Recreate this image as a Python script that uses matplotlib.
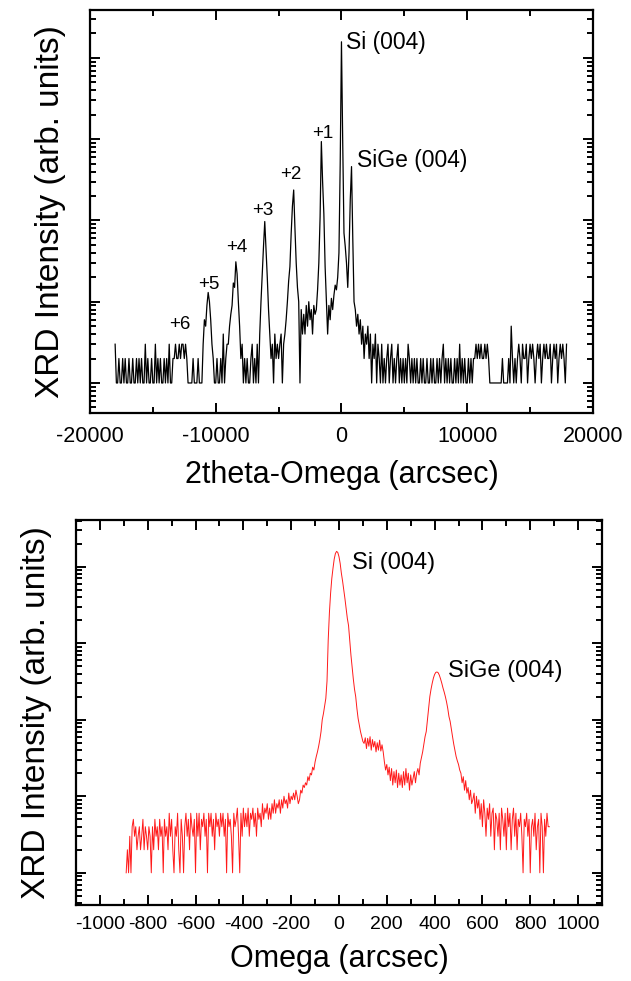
import numpy as np
import matplotlib
matplotlib.use("Agg")
import matplotlib.pyplot as plt
from matplotlib.ticker import LogLocator, NullFormatter, MultipleLocator, FixedLocator

plt.rcParams['font.family'] = ['Liberation Sans', 'DejaVu Sans']
plt.rcParams['axes.unicode_minus'] = False

# ---------------- data: 2theta-Omega scan (arcsec, counts) ----------------
scan1_start = -18000
scan1_step = 100
scan1_counts = (
    [3, 1, 1, 2, 1, 1, 2, 1, 2, 1] +          # -18000
    [1, 2, 1, 1, 2, 1, 1, 2, 1, 2] +          # -17000
    [1, 2, 1, 1, 3, 1, 2, 1, 1, 2] +          # -16000
    [1, 1, 3, 1, 2, 1, 2, 1, 1, 2] +          # -15000
    [1, 2, 1, 3, 1, 1, 2, 2, 3, 2] +          # -14000
    [2, 3, 2, 3, 3, 2, 3, 2, 1, 1] +          # -13000
    [1, 1, 2, 1, 1, 1, 2, 1, 1, 1] +          # -12000
    [3, 6, 5, 9, 13, 10, 6, 3, 2, 1] +        # -11000
    [1, 2, 1, 1, 2, 1, 4, 1, 2, 3] +          # -10000
    [3, 5, 7, 9, 17, 15, 31, 22, 10, 5] +     # -9000
    [2, 3, 1, 2, 1, 2, 1, 1, 2, 3] +          # -8000
    [1, 2, 1, 3, 1, 4, 10, 22, 48, 97] +      # -7000
    [45, 20, 8, 4, 2, 3, 1, 4, 2, 3] +        # -6000
    [2, 3, 4, 1, 3, 4, 6, 10, 18, 27] +       # -5000
    [69, 150, 237, 80, 30, 15, 10, 1, 8, 4] + # -4000
    [7, 4, 9, 5, 10, 6, 8, 4, 9, 7] +         # -3000
    [8, 14, 30, 110, 935, 300, 120, 27, 10, 4] +  # -2000
    [9, 6, 11, 8, 12, 16, 14, 20, 40, 500] +  # -1000
    [15800, 900, 70, 48, 30, 15, 40, 180, 460, 60] +  # 0
    [10, 8, 5, 7, 4, 6, 3, 5, 2, 4] +         # 1000
    [3, 5, 2, 4, 1, 3, 2, 4, 1, 3] +          # 2000
    [2, 1, 3, 1, 2, 1, 2, 3, 1, 2] +          # 3000
    [3, 1, 2, 1, 2, 3, 1, 2, 1, 2] +          # 4000
    [1, 2, 1, 3, 2, 1, 2, 1, 2, 1] +          # 5000
    [2, 1, 1, 2, 1, 2, 1, 1, 2, 1] +          # 6000
    [1, 2, 1, 2, 1, 1, 2, 1, 2, 1] +          # 7000
    [2, 3, 1, 2, 1, 2, 1, 2, 1, 1] +          # 8000
    [2, 1, 2, 1, 3, 1, 2, 1, 2, 1] +          # 9000
    [1, 2, 1, 2, 1, 2, 2, 3, 2, 3] +          # 10000
    [2, 3, 2, 2, 3, 2, 3, 2, 1, 1] +          # 11000
    [1, 1, 1, 1, 1, 1, 1, 1, 2, 1] +          # 12000
    [1, 1, 1, 2, 1, 5, 2, 1, 2, 1] +          # 13000
    [2, 3, 2, 1, 3, 2, 2, 3, 1, 2] +          # 14000
    [3, 2, 3, 2, 1, 2, 3, 2, 3, 1] +          # 15000
    [2, 3, 2, 3, 2, 2, 3, 1, 2, 3] +          # 16000
    [2, 3, 1, 2, 3, 2, 3, 2, 1, 3]            # 17000
)

# ---------------- data: Omega rocking curve (arcsec, counts) ----------------
scan2_start = -890
scan2_step = 5
scan2_counts = (
    [1, 2, 1, 3, 1, 4, 5, 3, 4, 2] +                 # -890
    [3, 4, 2, 3, 5, 2, 4, 3, 2, 4] +                 # -840
    [3, 1, 4, 2, 5, 3, 4, 2, 5, 3] +                 # -790
    [4, 1, 5, 3, 4, 2, 6, 3, 5, 2] +                 # -740
    [1, 4, 3, 6, 2, 1, 5, 3, 1, 4] +                 # -690
    [6, 3, 5, 2, 6, 4, 3, 5, 1, 6] +                 # -640
    [3, 6, 2, 5, 4, 6, 3, 5, 1, 6] +                 # -590
    [4, 6, 3, 5, 2, 6, 4, 5, 3, 6] +                 # -540
    [4, 6, 3, 5, 1, 6, 4, 5, 3, 1] +                 # -490
    [6, 4, 5, 7, 3, 1, 6, 3, 7, 4] +                 # -440
    [6, 4, 7, 3, 6, 5, 7, 4, 6, 3] +                 # -390
    [7, 5, 6, 4, 8, 5, 7, 6, 8, 5] +                 # -340
    [7, 5, 8, 6, 9, 6, 8, 7, 9, 6] +                 # -290
    [9, 7, 10, 8, 9, 7, 11, 8, 10, 9] +              # -240
    [11, 9, 12, 10, 8, 9, 12, 11, 14, 13] +          # -190
    [15, 14, 18, 16, 20, 19, 24, 22, 28, 33] +       # -140
    [38, 45, 55, 70, 100, 120, 150, 190, 320, 1100] +  # -90
    [2500, 4500, 7000, 9500, 12500, 14800, 15800, 15300, 13500, 11000] +  # -40
    [8200, 6500, 5000, 3800, 2800, 2100, 1700, 1100, 700, 480] +  # 10
    [340, 250, 200, 140, 104, 85, 70, 60, 52, 49] +  # 60
    [58, 42, 57, 45, 60, 40, 55, 44, 52, 38] +       # 110
    [50, 40, 54, 39, 47, 38, 28, 22, 26, 19] +       # 160
    [24, 16, 23, 14, 21, 15, 22, 13, 20, 14] +       # 210
    [19, 13, 21, 14, 23, 15, 20, 12, 19, 14] +       # 260
    [17, 21, 15, 20, 23, 19, 27, 32, 38, 48] +       # 310
    [60, 70, 100, 140, 200, 250, 300, 350, 390, 415] +  # 360
    [420, 410, 380, 340, 300, 260, 230, 200, 170, 140] +  # 410
    [110, 95, 75, 60, 48, 40, 33, 29, 26, 22] +      # 460
    [20, 15, 18, 12, 16, 11, 13, 9, 12, 8] +         # 510
    [9, 11, 6, 10, 7, 9, 5, 8, 4, 9] +               # 560
    [6, 3, 7, 5, 8, 3, 6, 7, 2, 6] +                 # 610
    [5, 3, 6, 2, 7, 5, 3, 6, 2, 7] +                 # 660
    [4, 6, 2, 5, 7, 3, 6, 2, 5, 4] +                 # 710
    [6, 3, 1, 5, 4, 6, 3, 5, 1, 4] +                 # 760
    [5, 3, 6, 2, 4, 5, 1, 6, 4, 1] +                 # 810
    [5, 3, 6, 4, 4]                                  # 860
)

top_xticks = [-20000, -10000, 0, 10000, 20000]
bottom_xticks = [-1000, -800, -600, -400, -200, 0, 200, 400, 600, 800, 1000]

top_labels = ["Si (004)", "SiGe (004)", "+1", "+2", "+3", "+4", "+5", "+6"]
top_label_x = [400, 1210, -1470, -4030, -6240, -8330, -10540, -12870]
top_label_y = [15700, 540, 1190, 363, 134, 47, 16.5, 5.3]

bottom_labels = ["Si (004)", "SiGe (004)"]
bottom_label_x = [53, 457]
bottom_label_y = [11300, 428]

# ---------------- figure ----------------
fig = plt.figure(figsize=(6.31, 9.81), dpi=100)
ax1 = fig.add_axes([0.1426, 0.5790, 0.7971, 0.4108])
ax2 = fig.add_axes([0.1204, 0.0775, 0.8336, 0.3925])

x1 = scan1_start + scan1_step * np.arange(len(scan1_counts))
ax1.plot(x1, scan1_counts, color='black', lw=0.9)
ax1.set_yscale('log')
ax1.set_xlim(-20000, 20000)
ax1.set_ylim(0.427, 38900)
ax1.xaxis.set_major_locator(FixedLocator(top_xticks))
ax1.xaxis.set_minor_locator(MultipleLocator(5000))
ax1.set_xlabel("2theta-Omega (arcsec)", fontsize=22, labelpad=10)
ax1.tick_params(axis='x', which='major', labelsize=15.5, pad=9)
for i, t in enumerate(top_labels):
    if i < 2:
        ax1.text(top_label_x[i], top_label_y[i], t, fontsize=16.5, ha='left', va='center')
    else:
        ax1.text(top_label_x[i], top_label_y[i], t, fontsize=13.5, ha='center', va='center')

x2 = scan2_start + scan2_step * np.arange(len(scan2_counts))
ax2.plot(x2, scan2_counts, color='#ff1a1a', lw=0.7)
ax2.set_yscale('log')
ax2.set_xlim(-1100, 1100)
ax2.set_ylim(0.38, 40700)
ax2.xaxis.set_major_locator(FixedLocator(bottom_xticks))
ax2.xaxis.set_minor_locator(MultipleLocator(100))
ax2.set_xlabel("Omega (arcsec)", fontsize=22, labelpad=8)
ax2.tick_params(axis='x', which='major', labelsize=14, pad=8)
for i, t in enumerate(bottom_labels):
    ax2.text(bottom_label_x[i], bottom_label_y[i], t, fontsize=17, ha='left', va='center')

for ax in (ax1, ax2):
    for s in ax.spines.values():
        s.set_linewidth(1.6)
    ax.tick_params(which='both', direction='in', top=True, right=True, width=1.4)
    ax.tick_params(which='major', length=7)
    ax.tick_params(which='minor', length=4)
    ax.yaxis.set_major_locator(LogLocator(base=10, numticks=20))
    ax.yaxis.set_minor_locator(LogLocator(base=10, subs=np.arange(2, 10), numticks=20))
    ax.yaxis.set_major_formatter(NullFormatter())
    ax.yaxis.set_minor_formatter(NullFormatter())
    ax.set_ylabel("XRD Intensity (arb. units)", fontsize=24, labelpad=14)

fig.savefig("out.png", dpi=100)
